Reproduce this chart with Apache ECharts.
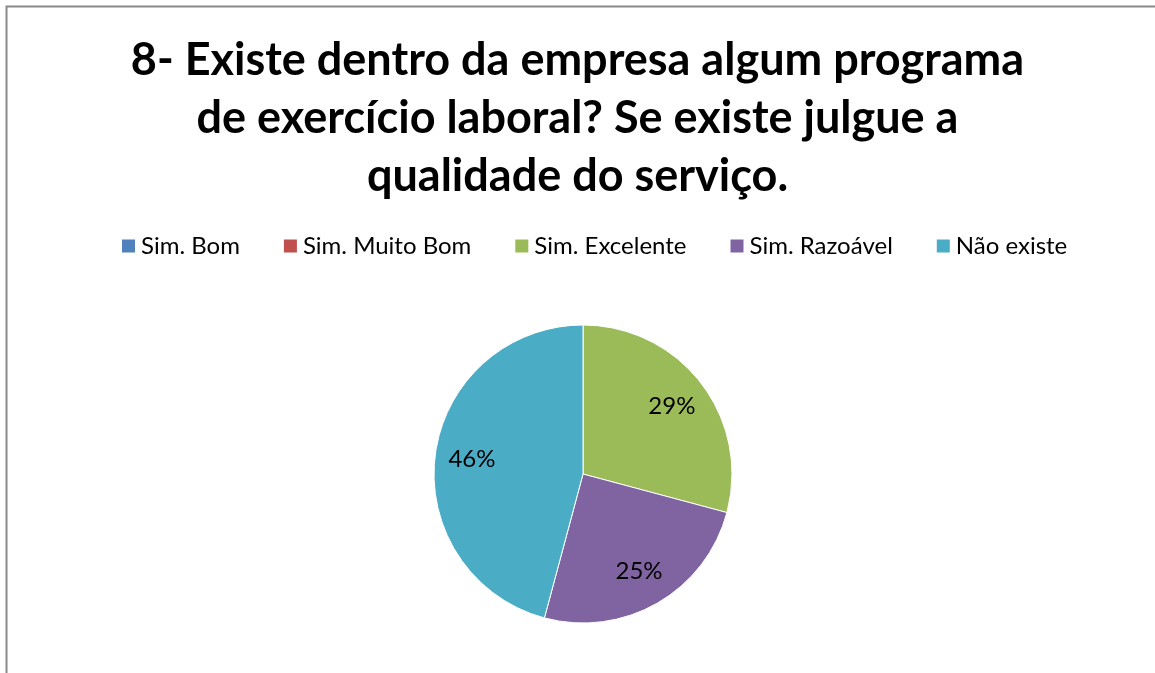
<!DOCTYPE html>
<html>
<head>
<meta charset="utf-8">
<script src="https://cdn.jsdelivr.net/npm/echarts@6/dist/echarts.min.js"></script>
<style>
  html, body { margin: 0; padding: 0; background: #fff; }
  #chart { width: 1155px; height: 673px; }
</style>
</head>
<body>
<div id="chart"></div>
<script>
const titleText = '8- Existe dentro da empresa algum programa\nde exercício laboral? Se existe julgue a\nqualidade do serviço.';
const categories = ['Sim. Bom', 'Sim. Muito Bom', 'Sim. Excelente', 'Sim. Razoável', 'Não existe'];
const counts = [0, 0, 7, 6, 11];
const colors = ['#4F81BD', '#C0504D', '#9BBB59', '#8064A2', '#4BACC6'];

const font = 'Lato, "Open Sans", sans-serif';
const pieData = categories.map((name, i) => ({ name: name, value: counts[i] }));

const chart = echarts.init(document.getElementById('chart'));
chart.setOption({
    animation: false,
    color: colors,
    textStyle: { fontFamily: font },
    graphic: [
        {
            type: 'rect',
            shape: { x: 6.5, y: 6.5, width: 1200, height: 720 },
            style: { fill: 'none', stroke: '#8a8a8a', lineWidth: 2 },
            silent: true
        }
    ],
    title: {
        text: titleText,
        left: 'center',
        top: 26,
        textStyle: {
            fontFamily: font,
            fontWeight: 'bold',
            fontSize: 45,
            lineHeight: 58,
            color: '#000'
        }
    },
    legend: {
        data: categories,
        top: 229,
        left: 115,
        itemWidth: 15,
        itemHeight: 15,
        itemGap: 42,
        icon: 'rect',
        textStyle: { fontFamily: font, fontSize: 24, color: '#000' }
    },
    series: [
        {
            type: 'pie',
            center: [583, 474],
            radius: 149,
            startAngle: 90,
            clockwise: true,
            silent: true,
            label: { show: false },
            labelLine: { show: false },
            itemStyle: { borderColor: '#fff', borderWidth: 1 },
            emphasis: { disabled: true },
            data: pieData
        },
        {
            // invisible helper ring, only used to place the percent labels
            type: 'pie',
            center: [583, 474],
            radius: [0, 218],
            startAngle: 90,
            clockwise: true,
            silent: true,
            itemStyle: { color: 'rgba(0,0,0,0)' },
            emphasis: { disabled: true },
            labelLine: { show: false },
            label: {
                show: true,
                position: 'inside',
                fontFamily: font,
                fontSize: 24,
                color: '#000',
                formatter: function (p) {
                    return p.value ? Math.round(p.percent) + '%' : '';
                }
            },
            data: pieData
        }
    ]
});
</script>
</body>
</html>
